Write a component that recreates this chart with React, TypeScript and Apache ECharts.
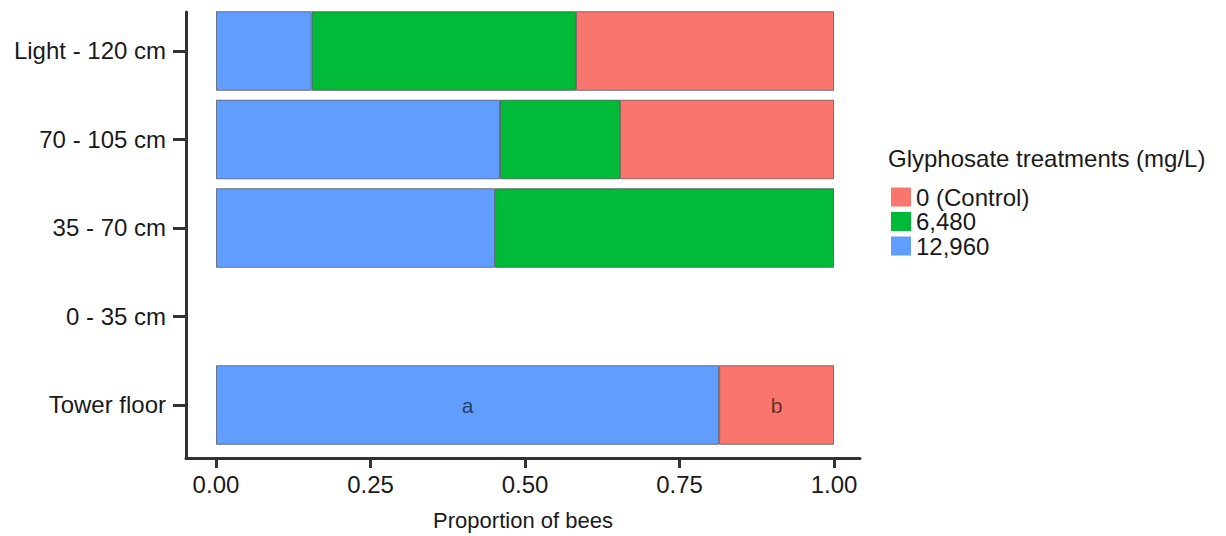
import React, { useEffect, useRef } from "react";
import * as echarts from "echarts";

// Tower zones, top to bottom
const CATEGORIES = ["Light - 120 cm", "70 - 105 cm", "35 - 70 cm", "0 - 35 cm", "Tower floor"];

// Proportion of bees per zone for each glyphosate treatment (null = no bees)
const HIGH_12960 = [0.155, 0.4595, 0.4515, null, 0.814];
const MID_6480 = [0.4275, 0.1942, 0.5485, null, null];
const CONTROL_0 = [0.4175, 0.3463, null, null, 0.186];

// Significance letters shown on the tower floor bar
const FLOOR_LETTERS = { high: "a", control: "b" };

const SERIES_NAMES = { control: "0 (Control)", mid: "6,480", high: "12,960" };
const COLORS = { control: "#F8766D", mid: "#00BA38", high: "#619CFF" };

const X_TICKS = [0, 0.25, 0.5, 0.75, 1];
const X_MIN = -0.0485;
const X_MAX = 1.042;

const FONT = "'Liberation Sans', Arial, Helvetica, sans-serif";
const TEXT_COLOR = "#1a1a1a";
const AXIS_COLOR = "#333333";

export default function App() {
  const ref = useRef<HTMLDivElement>(null);

  useEffect(() => {
    if (!ref.current) return;
    const chart = echarts.init(ref.current, undefined, { renderer: "svg" });

    const floorIndex = CATEGORIES.length - 1;
    const withLetter = (arr: (number | null)[], letter: string) =>
      arr.map((v, i) =>
        i === floorIndex && v != null
          ? {
              value: v,
              label: {
                show: true,
                position: "inside",
                formatter: letter,
                color: "rgba(0,0,0,0.62)",
                fontSize: 21,
                fontFamily: FONT,
              },
            }
          : v
      );

    const barStyle = (color: string) => ({
      color,
      borderColor: "rgba(40,40,40,0.55)",
      borderWidth: 1,
    });

    const baseBar = {
      type: "bar" as const,
      stack: "total",
      xAxisIndex: 0,
      yAxisIndex: 0,
      barWidth: "90%",
      emphasis: { disabled: true },
    };

    chart.setOption({
      animation: false,
      textStyle: { fontFamily: FONT },
      title: {
        text: "Glyphosate treatments (mg/L)",
        left: 883,
        top: 141,
        textStyle: { fontSize: 24, fontWeight: "normal", color: TEXT_COLOR, fontFamily: FONT },
      },
      legend: {
        orient: "vertical",
        left: 886,
        top: 180,
        itemWidth: 20,
        itemHeight: 19,
        itemGap: 0.5,
        icon: "rect",
        data: [SERIES_NAMES.control, SERIES_NAMES.mid, SERIES_NAMES.high],
        itemStyle: { borderWidth: 0 },
        textStyle: {
          fontSize: 24,
          color: TEXT_COLOR,
          fontFamily: FONT,
        },
      },
      grid: [
        // bars: category bands with 0.6-band padding handled by grid extents
        { left: 186, right: 366, top: 6.75, bottom: 86.75, containLabel: false },
        // axes frame
        { left: 186, right: 366, top: 12, bottom: 78, containLabel: false },
      ],
      xAxis: [
        { gridIndex: 0, type: "value", min: X_MIN, max: X_MAX, show: false },
        {
          gridIndex: 1,
          type: "value",
          min: X_MIN,
          max: X_MAX,
          name: "Proportion of bees",
          nameLocation: "middle",
          nameGap: 51,
          nameTextStyle: { fontSize: 22, color: TEXT_COLOR, fontFamily: FONT },
          axisLine: { show: true, onZero: false, lineStyle: { color: AXIS_COLOR, width: 3 } },
          axisTick: {
            show: true,
            customValues: X_TICKS,
            length: 10,
            lineStyle: { color: AXIS_COLOR, width: 3 },
          },
          axisLabel: {
            customValues: X_TICKS,
            formatter: (v: number) => v.toFixed(2),
            fontSize: 24,
            color: TEXT_COLOR,
            margin: 14,
            fontFamily: FONT,
          },
          splitLine: { show: false },
        },
      ],
      yAxis: [
        { gridIndex: 0, type: "category", inverse: true, data: CATEGORIES, show: false },
        {
          gridIndex: 1,
          type: "value",
          inverse: true,
          min: -0.44,
          max: CATEGORIES.length - 1 + 0.6,
          axisLine: { show: true, onZero: false, lineStyle: { color: AXIS_COLOR, width: 3 } },
          axisTick: {
            show: true,
            customValues: CATEGORIES.map((_, i) => i),
            length: 13,
            lineStyle: { color: AXIS_COLOR, width: 3 },
          },
          axisLabel: {
            customValues: CATEGORIES.map((_, i) => i),
            formatter: (v: number) => CATEGORIES[Math.round(v)] ?? "",
            fontSize: 24,
            color: TEXT_COLOR,
            margin: 20,
            fontFamily: FONT,
          },
          splitLine: { show: false },
        },
      ],
      series: [
        {
          ...baseBar,
          name: SERIES_NAMES.high,
          itemStyle: barStyle(COLORS.high),
          data: withLetter(HIGH_12960, FLOOR_LETTERS.high),
        },
        {
          ...baseBar,
          name: SERIES_NAMES.mid,
          itemStyle: barStyle(COLORS.mid),
          data: MID_6480,
        },
        {
          ...baseBar,
          name: SERIES_NAMES.control,
          itemStyle: barStyle(COLORS.control),
          data: withLetter(CONTROL_0, FLOOR_LETTERS.control),
        },
      ],
    });

    return () => chart.dispose();
  }, []);

  return (
    <div
      ref={ref}
      style={{ position: "fixed", left: 0, top: 0, width: 1226, height: 536, background: "#ffffff" }}
    />
  );
}
